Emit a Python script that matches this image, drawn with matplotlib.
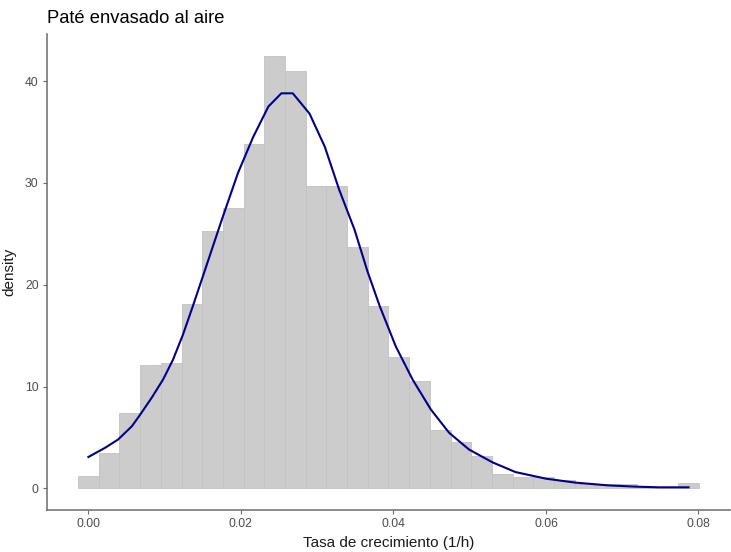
import matplotlib
matplotlib.use('Agg')
import matplotlib.pyplot as plt
import numpy as np

plt.rcParams['font.family'] = ['Liberation Sans', 'DejaVu Sans']

# histogram: 30 bins, centred like ggplot's default (first centre at data min)
data_min = 0.0
data_max = 0.0787
n_bins = 30
bin_density = [1.2, 3.46, 7.4, 12.15, 12.35, 18.1, 25.3, 27.5, 33.8, 42.5,
               41.0, 29.7, 29.7, 23.75, 17.9, 12.9, 10.5, 5.7, 4.6, 3.2,
               1.45, 1.1, 1.1, 0.8, 0.4, 0.4, 0.4, 0.15, 0.0, 0.55]

# kernel density curve
kde_x = [0.0000, 0.0022, 0.0039, 0.0057, 0.0068, 0.0083, 0.0098, 0.0111,
         0.0124, 0.0137, 0.0150, 0.0175, 0.0196, 0.0216, 0.0236, 0.0253,
         0.0268, 0.0290, 0.0310, 0.0329, 0.0349, 0.0366, 0.0382, 0.0403,
         0.0425, 0.0449, 0.0473, 0.0499, 0.0530, 0.0560, 0.0600, 0.0639,
         0.0682, 0.0717, 0.0748, 0.0787]
kde_y = [3.08, 3.99, 4.8, 6.1, 7.25, 8.9, 10.7, 12.65,
         15.1, 17.9, 20.8, 26.4, 30.95, 34.5, 37.5, 38.8,
         38.8, 36.8, 33.55, 29.3, 25.4, 21.3, 17.9, 13.95,
         10.7, 7.75, 5.46, 3.82, 2.55, 1.6, 0.95, 0.56,
         0.29, 0.17, 0.1, 0.1]

x_ticks = [0.00, 0.02, 0.04, 0.06, 0.08]
x_tick_labels = ['0.00', '0.02', '0.04', '0.06', '0.08']
y_ticks = [0, 10, 20, 30, 40]

width = (data_max - data_min) / (n_bins - 1)
centers = data_min + width * np.arange(n_bins)

fig = plt.figure(figsize=(7.31, 5.52), dpi=100, facecolor='white')
ax = fig.add_axes([0.0643, 0.0761, 0.9343, 0.8623])

ax.bar(centers, bin_density, width=width, color='#CCCCCC',
       edgecolor='#C2C2C2', linewidth=0.6, zorder=1)
ax.plot(kde_x, kde_y, color='#00008B', linewidth=1.5, zorder=2,
        solid_joinstyle='round')

lo = centers[0] - width / 2
hi = centers[-1] + width / 2
pad = (hi - lo) * 0.05
ax.set_xlim(lo - pad, hi + pad)
ymax = max(bin_density)
ax.set_ylim(-ymax * 0.05, ymax * 1.05)

ax.set_xticks(x_ticks)
ax.set_xticklabels(x_tick_labels)
ax.set_yticks(y_ticks)

for side in ['top', 'right']:
    ax.spines[side].set_visible(False)
for side in ['left', 'bottom']:
    ax.spines[side].set_color('#6B6B6B')
    ax.spines[side].set_linewidth(1.1)
ax.tick_params(axis='both', colors='#6B6B6B', labelcolor='#4D4D4D',
               labelsize=8.8, length=3, width=0.8, pad=3)

ax.set_xlabel('Tasa de crecimiento (1/h)', fontsize=11, color='#1A1A1A', labelpad=4)
ax.set_ylabel('density', fontsize=11, color='#1A1A1A', labelpad=6)
ax.set_title('Paté envasado al aire', fontsize=13.2, color='#000000',
             loc='left', x=0.0, pad=8)

fig.savefig('out.png', dpi=100, facecolor='white')
plt.close(fig)
